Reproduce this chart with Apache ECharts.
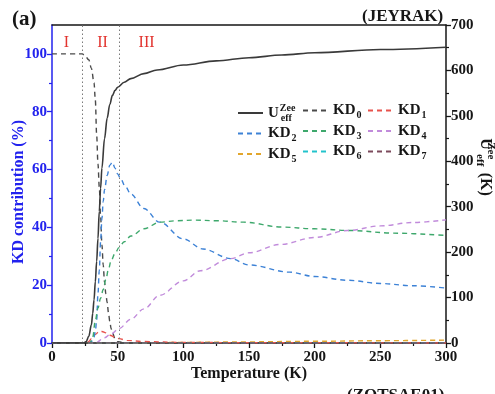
<!DOCTYPE html>
<html>
<head>
<meta charset="utf-8">
<script src="https://cdn.jsdelivr.net/npm/echarts@6/dist/echarts.min.js"></script>
<style>
  html, body { margin: 0; padding: 0; background: #fff; }
  #chart { width: 495px; height: 394px; }
</style>
</head>
<body>
<div id="chart"></div>
<script>
// Effective barrier U_eff^Zee (K) vs temperature (K)
const ueffT = [0, 20, 24, 26, 28, 30, 31, 32, 33, 34, 35, 36, 37, 38, 40, 42, 44, 46, 48, 50, 55, 60, 70, 80, 100, 125, 150, 175, 200, 250, 300];
const ueffV = [0, 0, 0, 3, 15, 40, 65, 95, 135, 180, 230, 290, 340, 385, 450, 495, 525, 545, 556, 563, 574, 582, 593, 601, 612, 621, 628, 634, 639, 646, 651];

// Kramers doublet contributions (%)
const kd0T = [0, 20, 23, 25, 28, 30, 32, 33, 34, 35, 36, 37, 38, 39, 40, 41, 42, 43, 44, 45, 46, 48, 50, 55, 300];
const kd0V = [100, 100, 100, 99.5, 98, 95, 90, 84, 72, 62, 54, 44, 34, 27, 21, 17, 14, 10.5, 7.5, 5, 3.5, 1.5, 0.5, 0, 0];

const kd1T = [0, 25, 28, 30, 33, 36, 38, 41, 44, 48, 51, 57, 70, 100, 150, 300];
const kd1V = [0, 0, 0.5, 1.5, 3, 4, 4, 3.5, 2.7, 2, 1.5, 0.9, 0.5, 0.2, 0.1, 0];

const kd2T = [0, 28, 30, 32, 33, 34, 35, 36, 37, 38, 39, 40, 42, 44, 46, 48, 50, 52, 56, 60, 70, 82, 100, 115, 136, 150, 181, 200, 225, 250, 275, 300];
const kd2V = [0, 0, 0.5, 2, 4, 8, 17, 25, 35, 43, 49, 53, 58, 61.5, 62.5, 60.5, 58.5, 57, 54, 51.5, 46.5, 41.8, 36, 32.5, 29.2, 27, 24.5, 23, 21.7, 20.6, 19.8, 19];

const kd3T = [0, 29, 31, 33, 35, 37, 39, 41, 43, 45, 48, 51, 55, 60, 70, 82, 95, 108, 125, 146, 175, 200, 228, 260, 300];
const kd3V = [0, 0, 2, 7.8, 12, 15.5, 18.5, 22, 25.5, 28.5, 31, 33, 35, 37, 39.5, 41.8, 42.3, 42.5, 42.3, 41.8, 40.1, 39.5, 38.9, 38, 37.2];

const kd4T = [0, 33, 40, 45, 51, 60, 70, 82, 100, 113, 136, 150, 174, 200, 225, 250, 275, 300];
const kd4V = [0, 0, 1.8, 3.2, 5, 8.2, 11.8, 16.5, 21.5, 25, 29.2, 31.2, 34.1, 36.5, 38.9, 40.5, 41.7, 42.6];

const kd5T = [0, 60, 100, 150, 200, 250, 300];
const kd5V = [0, 0, 0.2, 0.4, 0.6, 0.8, 1.0];

const kd6T = [0, 300];
const kd6V = [0, 0.1];

const kd7T = [0, 300];
const kd7V = [0, 0];

// Temperature regions and their boundaries
const regionNames = ['I', 'II', 'III'];
const regionLabelT = [11, 38.5, 72];
const regionBounds = [23, 51];

const leftTicks = [0, 20, 40, 60, 80, 100];
const leftMinorTicks = [10, 30, 50, 70, 90];

const FONT = 'Liberation Serif';
const BLUE = '#2222ee';
const INK = '#161616';

const zip = (t, v) => t.map((x, i) => [x, v[i]]);

const rich = {
  b:   { fontFamily: FONT, fontWeight: 'bold', fontSize: 15, color: INK },
  s:   { fontFamily: FONT, fontWeight: 'bold', fontSize: 10, color: INK, padding: [10, 0, 0, 1] },
  sup: { fontFamily: FONT, fontWeight: 'bold', fontSize: 10, color: INK, padding: [0, 0, 10, 1], width: 0 },
  sub: { fontFamily: FONT, fontWeight: 'bold', fontSize: 10, color: INK, padding: [10, 0, 0, 1] }
};
const axisRich = {
  b:   { fontFamily: FONT, fontWeight: 'bold', fontSize: 16, color: INK },
  sup: { fontFamily: FONT, fontWeight: 'bold', fontSize: 11, color: INK, padding: [0, 0, 11, 1], width: 0 },
  sub: { fontFamily: FONT, fontWeight: 'bold', fontSize: 11, color: INK, padding: [11, 0, 0, 1], width: 17 }
};

function legendLabel(name) {
  if (name === 'Ueff') return '{b|U}{sup|Zee}{sub|eff}';
  return '{b|KD}{s|' + name.slice(2) + '}';
}

const dash = [5, 4];
function kdSeries(name, t, v, color, extra) {
  return Object.assign({
    name: name,
    type: 'line',
    xAxisIndex: 0,
    yAxisIndex: 0,
    data: zip(t, v),
    symbol: 'none',
    smooth: 0.35,
    smoothMonotone: 'x',
    color: color,
    lineStyle: { color: color, width: 1.4, type: dash },
    emphasis: { disabled: true }
  }, extra || {});
}

function makeLegend(names, left) {
  return {
    data: names,
    left: left,
    top: 98,
    orient: 'vertical',
    itemWidth: 25,
    itemHeight: 14,
    itemGap: 3,
    itemStyle: { opacity: 0 },
    formatter: legendLabel,
    textStyle: { rich: rich },
    selectedMode: false
  };
}

const series = [
  {
    name: 'Ueff',
    type: 'line',
    xAxisIndex: 0,
    yAxisIndex: 1,
    data: zip(ueffT, ueffV),
    symbol: 'none',
    smooth: 0.35,
    smoothMonotone: 'x',
    color: '#3a3a3a',
    lineStyle: { color: '#3a3a3a', width: 1.6, type: 'solid' },
    emphasis: { disabled: true },
    z: 5
  },
  kdSeries('KD0', kd0T, kd0V, '#4a4a4a'),
  kdSeries('KD1', kd1T, kd1V, '#e8524c'),
  kdSeries('KD2', kd2T, kd2V, '#3d82d6'),
  kdSeries('KD3', kd3T, kd3V, '#3ea86c'),
  kdSeries('KD4', kd4T, kd4V, '#c18bdb'),
  kdSeries('KD5', kd5T, kd5V, '#e2a62c'),
  kdSeries('KD6', kd6T, kd6V, '#22c3cc'),
  kdSeries('KD7', kd7T, kd7V, '#7c4a5c', {
    markLine: {
      silent: true,
      symbol: ['none', 'none'],
      label: { show: false },
      lineStyle: { type: [1.5, 2.5], color: '#7a7a7a', width: 1 },
      data: regionBounds.map(b => ({ xAxis: b }))
    },
    markPoint: {
      silent: true,
      symbol: 'circle',
      symbolSize: 0,
      label: {
        show: true,
        position: 'inside',
        formatter: '{b}',
        color: '#e2342f',
        fontFamily: FONT,
        fontSize: 16
      },
      data: regionNames.map((n, i) => ({ name: n, coord: [regionLabelT[i], 104] }))
    }
  })
];

const chart = echarts.init(document.getElementById('chart'), null, { renderer: 'canvas' });
chart.setOption({
  animation: false,
  backgroundColor: '#ffffff',
  grid: { left: 52, right: 49, top: 25, bottom: 51, outerBoundsMode: 'none', containLabel: false },
  legend: [
    makeLegend(['Ueff', 'KD2', 'KD5'], 232),
    makeLegend(['KD0', 'KD3', 'KD6'], 297),
    makeLegend(['KD1', 'KD4', 'KD7'], 362)
  ],
  xAxis: [
    {
      type: 'value', min: 0, max: 300, interval: 50, position: 'bottom',
      axisLine: { show: true, onZero: false, lineStyle: { color: INK, width: 1.5 } },
      axisTick: { show: true, length: 5, lineStyle: { color: INK, width: 1.3 } },
      minorTick: { show: true, splitNumber: 2, length: 3, lineStyle: { color: INK, width: 1.2 } },
      splitLine: { show: false },
      axisLabel: { fontFamily: FONT, fontWeight: 'bold', fontSize: 15, color: INK, margin: 7 },
      name: 'Temperature (K)', nameLocation: 'middle', nameGap: 23, nameMoveOverlap: false,
      nameTextStyle: { fontFamily: FONT, fontWeight: 'bold', fontSize: 16, color: INK }
    },
    {
      type: 'value', min: 0, max: 300, position: 'top',
      axisLine: { show: true, onZero: false, lineStyle: { color: INK, width: 1.5 } },
      axisTick: { show: false }, axisLabel: { show: false }, splitLine: { show: false }
    }
  ],
  yAxis: [
    {
      type: 'value', min: 0, max: 110, position: 'left',
      axisLine: { show: true, onZero: false, lineStyle: { color: BLUE, width: 1.5 } },
      axisTick: { show: true, length: 5, customValues: leftTicks, lineStyle: { color: BLUE, width: 1.3 } },
      axisLabel: { fontFamily: FONT, fontWeight: 'bold', fontSize: 15, color: BLUE, margin: 5,
        customValues: leftTicks },
      splitLine: { show: false },
      name: 'KD contribution (%)', nameLocation: 'middle', nameGap: 25, nameMoveOverlap: false,
      nameTextStyle: { fontFamily: FONT, fontWeight: 'bold', fontSize: 16, color: BLUE, padding: [0, 16, 0, 0] }
    },
    {
      type: 'value', min: 0, max: 700, interval: 100, position: 'right',
      axisLine: { show: true, onZero: false, lineStyle: { color: INK, width: 1.5 } },
      axisTick: { show: true, length: 5, lineStyle: { color: INK, width: 1.3 } },
      minorTick: { show: true, splitNumber: 2, length: 3, lineStyle: { color: INK, width: 1.2 } },
      axisLabel: { fontFamily: FONT, fontWeight: 'bold', fontSize: 15, color: INK, margin: 5 },
      splitLine: { show: false },
      name: '{b|U}{sup|Zee}{sub|eff}{b| (K)}', nameLocation: 'middle', nameGap: 28, nameRotate: -90,
      nameMoveOverlap: false,
      nameTextStyle: { rich: axisRich, padding: [0, 34, 0, 0] }
    },
    {
      type: 'value', min: 0, max: 110, position: 'left',
      axisLine: { show: false },
      axisTick: { show: true, length: 3, customValues: leftMinorTicks, lineStyle: { color: BLUE, width: 1.2 } },
      axisLabel: { show: false },
      splitLine: { show: false }
    }
  ],
  graphic: [
    { type: 'text', left: 12, top: 9, silent: true,
      style: { text: '(a)', fontFamily: FONT, fontWeight: 'bold', fontSize: 21, fill: INK } },
    { type: 'text', left: 362, top: 8, silent: true,
      style: { text: '(JEYRAK)', fontFamily: FONT, fontWeight: 'bold', fontSize: 17, fill: INK } },
    { type: 'text', left: 347, top: 387, silent: true,
      style: { text: '(ZOTSAE01)', fontFamily: FONT, fontWeight: 'bold', fontSize: 17, fill: INK } }
  ],
  series: series
});
</script>
</body>
</html>
